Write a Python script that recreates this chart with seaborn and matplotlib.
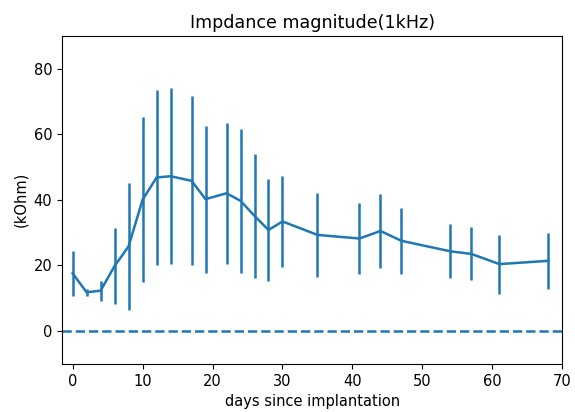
import numpy as np
import pandas as pd
import seaborn as sns
import matplotlib.pyplot as plt

days = [0, 2, 4, 6, 8, 10, 12, 14, 17, 19, 22, 24, 26, 28, 30,
        35, 41, 44, 47, 54, 57, 61, 68]
impedance = [17.6, 11.8, 12.3, 19.8, 25.8, 40.0, 46.8, 47.2, 45.8, 40.2, 42.0, 39.7, 35.1, 30.8, 33.4,
             29.3, 28.2, 30.5, 27.5, 24.3, 23.5, 20.4, 21.4]
impedance_err = [6.8, 1.0, 3.0, 11.6, 19.4, 25.2, 26.7, 26.8, 25.8, 22.4, 21.5, 22.0, 19.0, 15.7, 13.9,
                 12.8, 10.9, 11.3, 10.1, 8.2, 8.1, 9.0, 8.6]

data = pd.DataFrame({'day': days, 'kohm': impedance, 'err': impedance_err})

plt.rcParams['font.size'] = 10.5
fig = plt.figure(figsize=(5.75, 4.12), dpi=100)
ax = fig.add_subplot(111)
fig.subplots_adjust(left=0.108, right=0.978, top=0.913, bottom=0.117)

sns.lineplot(data=data, x='day', y='kohm', ax=ax, color='C0', linewidth=1.8)
ax.errorbar(data['day'], data['kohm'], yerr=data['err'], fmt='none',
            ecolor='C0', elinewidth=1.8, capsize=0)
ax.axhline(0, color='C0', linestyle='--', linewidth=1.8)

ax.set_xlim(-1.5, 70)
ax.set_ylim(-10, 90)
ax.set_xticks(range(0, 71, 10))
ax.set_yticks(range(0, 81, 20))
ax.set_title('Impdance magnitude(1kHz)')
ax.set_xlabel('days since implantation')
ax.set_ylabel('(kOhm)')

plt.savefig('out.png', dpi=100)
